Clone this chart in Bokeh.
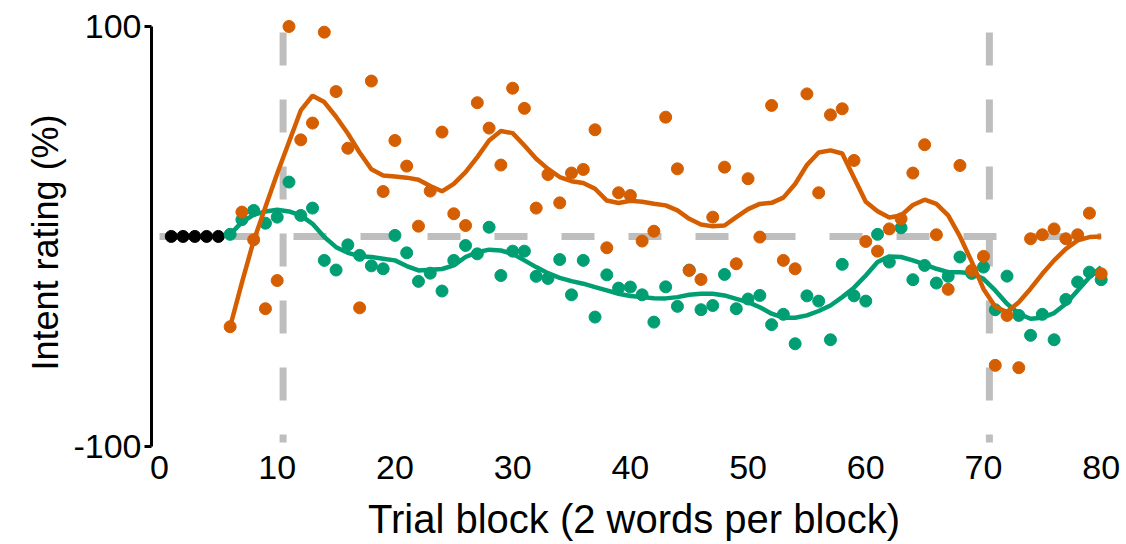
from bokeh.plotting import figure
from bokeh.models import Range1d, FixedTicker, Title
from bokeh.embed import file_html
from bokeh.resources import INLINE

# ---- data ----
baseline_blocks = [1, 2, 3, 4, 5]
baseline_values = [0, 0, 0, 0, 0]

blocks = list(range(6, 81))

orange_points = [
    -43, 11.6, -1.6, -34.4, -21, 100, 46, 54, 97.3, 69,
    42, -34, 74, 21.4, 45.7, 33.5, 4.9, 21.6, 49.7, 10.8,
    5.2, 63.7, 51.6, 34, 70.6, 61, 13.5, 29.5, 16, 30.2,
    31.9, 50.8, -5.4, 20.8, 19.5, -2.2, 2.5, 56.8, 32.2, -16.2,
    -20.5, 9.2, 33, -13, 27.5, -0.3, 62.4, -11.4, -15.4, 67.9,
    20.8, 57.9, 60.8, 36.2, -2.4, -7, 3.6, 8.4, 30.2, 43.7,
    0.8, -25.2, 33.8, -16.2, -9.5, -61.4, -37.6, -62.5, -1.1, 0.8,
    3.6, -1.1, 0.8, 11.1, -17.8,
]

green_points = [
    1, 8, 12.4, 6.3, 9.2, 25.9, 10, 13.5, -11.4, -16,
    -4, -9, -14, -15.4, 0.5, -7.8, -21.4, -17.5, -26, -11.4,
    -4.3, -8.3, 4.4, -18.6, -7, -7, -19, -20, -11, -27.8,
    -11.4, -38.4, -18.3, -24.6, -24.1, -27.8, -40.8, -24, -33.3, -16,
    -34.9, -32.9, -18.1, -34.4, -29.8, -28.1, -42, -37.1, -51.1, -28.3,
    -30.8, -49.2, -13.3, -28.3, -30.8, 1, -12.2, 4.1, -20.6, -13.8,
    -22.2, -19, -9.8, -17.6, -14.6, -34.9, -18.9, -37.6, -47.1, -37.1,
    -49.2, -30, -21.7, -17, -20.6,
]

orange_smooth = [
    -43, -22, -2, 14, 30, 45, 60, 67, 64, 57,
    49, 40, 32, 29, 28.5, 28, 27, 24, 21.5, 25,
    30.6, 37.8, 45.7, 50.2, 49.2, 43.3, 37, 32.2, 28.3, 26.3,
    25.5, 22.7, 17.1, 15.9, 17, 16.5, 15.6, 14.8, 12.4, 8.4,
    5.7, 4.8, 5.2, 9.2, 13, 15.5, 16, 18.5, 25, 34,
    40, 41, 39.5, 28, 16.5, 12, 9, 10, 15, 17.5,
    15.5, 10, 0, -12, -25, -33.5, -36, -31.3, -24.9, -17.8,
    -11.4, -5.9, -1.9, -0.3, 0,
]

green_smooth = [
    1, 6.8, 10.3, 11.9, 12.7, 11.9, 10, 6, -0.3, -5.1,
    -7.8, -9.4, -9.8, -10.6, -11.4, -14.1, -16.2, -15.9, -15.5, -13.8,
    -9.8, -7.5, -6.3, -6.7, -8.3, -11.4, -14.6, -17.5, -19.7, -21.3,
    -22.5, -24.1, -25.7, -27.3, -28.4, -28.9, -29.4, -29.5, -28.9, -27.8,
    -27.3, -27.3, -28.1, -29.7, -31.3, -33.7, -36.8, -38.7, -38.7, -37.6,
    -35.5, -32.9, -28.9, -24.4, -18.6, -12.2, -9.5, -9.8, -11.4, -13.3,
    -15.4, -17, -17, -17.5, -20.2, -25.7, -32.1, -36.8, -39.2, -38.7,
    -36.5, -32.1, -25.7, -19.4, -14.6,
]

x_ticks = [0, 10, 20, 30, 40, 50, 60, 70, 80]
y_ticks = [-100, 100]
y_tick_labels = {-100: "-100", 100: "100"}
x_title = "Trial block (2 words per block)"
y_title = "Intent rating (%)"
phase_bounds = [10.5, 70.5]
reference_level = 0
first_block, last_block = 0, 80
vline_top, vline_bottom = 97.1, -98.1
y_lo, y_hi = -102.9, 103.8

ORANGE = "#D55E00"
GREEN = "#009E73"
GREY = "#BEBEBE"
FONT = "Liberation Sans"

p = figure(width=1126, height=544, output_backend="svg", toolbar_location=None,
           x_range=Range1d(-0.68, 81.3), y_range=Range1d(y_lo, y_hi),
           min_border_left=151, min_border_right=10, min_border_top=18,
           min_border_bottom=92)
p.outline_line_color = None
p.grid.grid_line_color = None
p.background_fill_color = "white"
p.border_fill_color = "white"

# reference lines
p.segment(x0=[first_block], y0=[reference_level], x1=[last_block], y1=[reference_level],
          line_color=GREY, line_width=7, line_dash="33 34")
p.segment(x0=phase_bounds, y0=[vline_top] * 2, x1=phase_bounds, y1=[vline_bottom] * 2,
          line_color=GREY, line_width=7, line_dash="33 34")

# baseline
p.scatter(baseline_blocks, baseline_values, size=12, color="black")

# green series
p.scatter(blocks, green_points, size=12, color=GREEN)
p.line(blocks, green_smooth, line_color=GREEN, line_width=4.5)

# orange series
p.scatter(blocks, orange_points, size=12, color=ORANGE)
p.line(blocks, orange_smooth, line_color=ORANGE, line_width=4.5)

# axes
xa = p.xaxis[0]
xa.ticker = FixedTicker(ticks=x_ticks)
xa.axis_line_color = None
xa.major_tick_line_color = None
xa.minor_tick_line_color = None
xa.major_tick_out = 0
xa.major_label_text_font = FONT
xa.major_label_text_font_size = "34px"
xa.major_label_text_color = "black"
xa.major_label_standoff = 3
xa.axis_label = x_title
xa.axis_label_text_font = FONT
xa.axis_label_text_font_size = "40px"
xa.axis_label_text_font_style = "normal"
xa.axis_label_text_color = "black"
xa.axis_label_standoff = 15

ya = p.yaxis[0]
ya.ticker = FixedTicker(ticks=y_ticks)
ya.major_label_overrides = y_tick_labels
ya.bounds = (y_ticks[0], y_ticks[-1])
ya.axis_line_width = 3
ya.axis_line_color = "black"
ya.major_tick_line_width = 3
ya.major_tick_line_color = "black"
ya.major_tick_out = 7
ya.major_tick_in = 0
ya.minor_tick_line_color = None
ya.major_label_text_font = FONT
ya.major_label_text_font_size = "34px"
ya.major_label_text_color = "black"
ya.major_label_standoff = 3

p.add_layout(Title(text=y_title, align="left", offset=82, standoff=10,
                   text_font=FONT, text_font_size="36px", text_font_style="normal",
                   text_color="black"), "left")

open("out.html", "w").write(file_html(p, INLINE))
